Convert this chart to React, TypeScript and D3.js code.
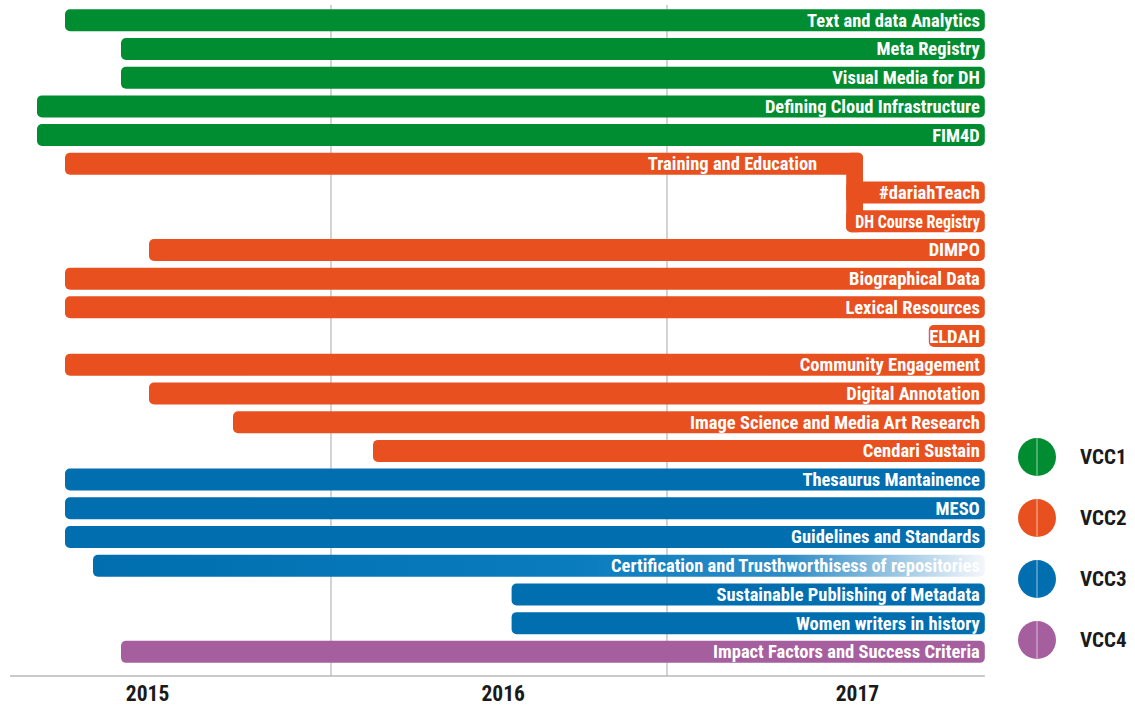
import { useEffect, useRef } from "react";
import * as d3 from "d3";

// months counted from the left edge of the first year column
const projects = [
  "Text and data Analytics",
  "Meta Registry",
  "Visual Media for DH",
  "Defining Cloud Infrastructure",
  "FIM4D",
  "Training and Education",
  "#dariahTeach",
  "DH Course Registry",
  "DIMPO",
  "Biographical Data",
  "Lexical Resources",
  "ELDAH",
  "Community Engagement",
  "Digital Annotation",
  "Image Science and Media Art Research",
  "Cendari Sustain",
  "Thesaurus Mantainence",
  "MESO",
  "Guidelines and Standards",
  "Certification and Trusthworthisess of repositories",
  "Sustainable Publishing of Metadata",
  "Women writers in history",
  "Impact Factors and Success Criteria",
];
const groupOf = [
  "VCC1", "VCC1", "VCC1", "VCC1", "VCC1",
  "VCC2", "VCC2", "VCC2", "VCC2", "VCC2", "VCC2", "VCC2", "VCC2", "VCC2", "VCC2", "VCC2",
  "VCC3", "VCC3", "VCC3", "VCC3", "VCC3", "VCC3",
  "VCC4",
];
const startMonth = [
  2.5, 4.5, 4.5, 1.5, 1.5,
  2.5, 30.4, 30.4, 5.5, 2.5, 2.5, 33.35, 2.5, 5.5, 8.5, 13.5,
  2.5, 2.5, 2.5, 3.5, 18.45, 18.45,
  4.5,
];
const endMonth = [
  35.35, 35.35, 35.35, 35.35, 35.35,
  31, 35.35, 35.35, 35.35, 35.35, 35.35, 35.35, 35.35, 35.35, 35.35, 35.35,
  35.35, 35.35, 35.35, 35.35, 35.35, 35.35,
  35.35,
];

const groups = ["VCC1", "VCC2", "VCC3", "VCC4"];
const groupColors = ["#008C30", "#E8511F", "#006EAF", "#A55E9E"];

const yearLabels = ["2015", "2016", "2017"];
const yearLabelMonth = [5.45, 18.15, 30.8];
const gridMonths = [12, 24];

const FONT = "'Roboto Condensed', 'Liberation Sans Narrow', 'DejaVu Sans Condensed', Roboto, sans-serif";

export default function App() {
  const svgRef = useRef<SVGSVGElement>(null);

  useEffect(() => {
    if (!svgRef.current) return;
    document.body.style.margin = "0";

    const width = 1135;
    const height = 706;
    const svg = d3.select(svgRef.current);
    svg.selectAll("*").remove();
    svg.attr("width", width).attr("height", height);

    const x = d3.scaleLinear().domain([0, 36]).range([-5, 1003]);
    const y = d3
      .scaleBand<number>()
      .domain(d3.range(projects.length))
      .range([5.9, 666.2])
      .paddingInner(0.234)
      .paddingOuter(0.117);
    const color = d3.scaleOrdinal<string, string>().domain(groups).range(groupColors);

    const defs = svg.append("defs");
    const grad = defs
      .append("linearGradient")
      .attr("id", "fade")
      .attr("gradientUnits", "userSpaceOnUse")
      .attr("x1", x(startMonth[19]))
      .attr("x2", x(endMonth[19]))
      .attr("y1", 0)
      .attr("y2", 0);
    grad.append("stop").attr("offset", "0").attr("stop-color", "#006EAF");
    grad.append("stop").attr("offset", "0.55").attr("stop-color", "#0A7DBF");
    grad.append("stop").attr("offset", "0.78").attr("stop-color", "#2E8CC6");
    grad.append("stop").attr("offset", "1").attr("stop-color", "#F4F7FB");

    // grid lines and axis
    svg
      .selectAll("line.grid")
      .data(gridMonths)
      .enter()
      .append("line")
      .attr("x1", (d) => x(d))
      .attr("x2", (d) => x(d))
      .attr("y1", 5)
      .attr("y2", 676)
      .attr("stroke", "#c4c4c4")
      .attr("stroke-width", 1.5);

    svg
      .append("line")
      .attr("x1", 10)
      .attr("x2", x(35.35))
      .attr("y1", 676)
      .attr("y2", 676)
      .attr("stroke", "#b8b8b8")
      .attr("stroke-width", 1.5);

    svg
      .selectAll("text.year")
      .data(yearLabels)
      .enter()
      .append("text")
      .attr("x", (d, i) => x(yearLabelMonth[i]))
      .attr("y", 693)
      .attr("dy", "0.35em")
      .attr("text-anchor", "middle")
      .attr("font-family", FONT)
      .attr("font-weight", "bold")
      .attr("font-size", 21.5)
      .attr("fill", "#1a1a1a")
      .text((d) => d);

    // connector between Training and Education and its sub-projects
    svg
      .append("rect")
      .attr("x", x(startMonth[6]))
      .attr("y", y(5)!)
      .attr("width", x(endMonth[5]) - x(startMonth[6]))
      .attr("height", y(7)! + y.bandwidth() - y(5)!)
      .attr("rx", 5)
      .attr("fill", color("VCC2"));

    // bars
    svg
      .selectAll("rect.bar")
      .data(projects)
      .enter()
      .append("rect")
      .attr("x", (d, i) => x(startMonth[i]))
      .attr("y", (d, i) => y(i)!)
      .attr("width", (d, i) => x(endMonth[i]) - x(startMonth[i]))
      .attr("height", y.bandwidth())
      .attr("rx", 5)
      .attr("fill", (d, i) => (i === 19 ? "url(#fade)" : color(groupOf[i])));

    // labels
    const labels = svg
      .selectAll("text.label")
      .data(projects)
      .enter()
      .append("text")
      .attr("x", (d, i) => (i === 5 ? x(startMonth[6]) - 29 : x(endMonth[i]) - 5))
      .attr("y", (d, i) => y(i)! + y.bandwidth() / 2)
      .attr("dy", "0.35em")
      .attr("text-anchor", "end")
      .attr("font-family", FONT)
      .attr("font-weight", "bold")
      .attr("font-size", 18.5)
      .attr("fill", "#ffffff")
      .text((d) => d);

    // the short sub-project bar squeezes its label
    labels
      .filter((d, i) => i === 7)
      .attr("textLength", x(endMonth[7]) - x(startMonth[7]) - 14)
      .attr("lengthAdjust", "spacingAndGlyphs");

    // legend
    const legend = svg
      .selectAll("g.legend")
      .data(groups)
      .enter()
      .append("g")
      .attr("transform", (d, i) => `translate(1037, ${457 + i * 61})`);

    legend.append("circle").attr("r", 19).attr("fill", (d) => color(d));
    legend
      .append("line")
      .attr("y1", -19)
      .attr("y2", 19)
      .attr("stroke", "#ffffff")
      .attr("stroke-opacity", 0.6)
      .attr("stroke-width", 1);
    legend
      .append("text")
      .attr("x", 43)
      .attr("dy", "0.35em")
      .attr("font-family", FONT)
      .attr("font-weight", "bold")
      .attr("font-size", 21)
      .attr("fill", "#1a1a1a")
      .text((d) => d);
  }, []);

  return (
    <div>
      <svg ref={svgRef}></svg>
    </div>
  );
}
